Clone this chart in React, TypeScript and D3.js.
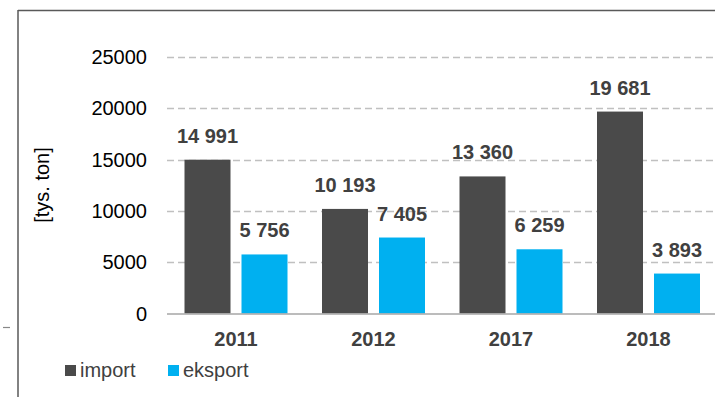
import React from "react";
import * as d3 from "d3";

const categories = ["2011", "2012", "2017", "2018"];
const seriesNames = ["import", "eksport"];
const importValues = [14991, 10193, 13360, 19681];
const eksportValues = [5756, 7405, 6259, 3893];
const yTicks = [0, 5000, 10000, 15000, 20000, 25000];
const yLabel = "[tys. ton]";

const colors: Record<string, string> = { import: "#4a4a4a", eksport: "#00b0f0" };
const FONT = "'Liberation Sans', Arial, sans-serif";

export default function App() {
  const W = 715;
  const H = 397;
  const x0 = d3.scaleBand<string>().domain(categories).range([167.25, 717.25]).padding(0);
  const x1 = d3
    .scaleBand<string>()
    .domain(seriesNames)
    .range([17.25, 120.25])
    .paddingInner(11 / 57)
    .paddingOuter(0);
  const y = d3.scaleLinear().domain([0, 25000]).range([313.5, 57]);
  const fmt = d3.formatLocale({ decimal: ",", thousands: " ", grouping: [3], currency: ["", ""] }).format(",d");
  const data: Record<string, number[]> = { import: importValues, eksport: eksportValues };

  return (
    <svg width={W} height={H} style={{ position: "absolute", left: 0, top: 0, display: "block" }} fontFamily={FONT}>
      <rect x={0} y={0} width={W} height={H} fill="#ffffff" />
      {/* frame */}
      <line x1={18} y1={10.5} x2={W} y2={10.5} stroke="#595959" strokeWidth={1.5} />
      <line x1={18} y1={10} x2={18} y2={H} stroke="#595959" strokeWidth={1.5} />
      <line x1={3} y1={327.5} x2={10} y2={327.5} stroke="#888888" strokeWidth={1.2} />
      {/* gridlines */}
      {yTicks.filter((t) => t > 0).map((t) => (
        <line key={t} x1={167} x2={W} y1={Math.round(y(t)) + 0.5} y2={Math.round(y(t)) + 0.5}
          stroke="#c0c0c0" strokeWidth={1.3} strokeDasharray="7 4" />
      ))}
      {/* y tick labels */}
      {yTicks.map((t) => (
        <text key={t} x={147} y={y(t)} dy="0.35em" textAnchor="end" fontSize={20} fill="#000">
          {t}
        </text>
      ))}
      {/* y label */}
      <text transform={`translate(49,185) rotate(-90)`} textAnchor="middle" fontSize={20} fill="#000">
        {yLabel}
      </text>
      {/* bars */}
      {categories.map((c, i) => (
        <g key={c} transform={`translate(${x0(c)},0)`}>
          {seriesNames.map((s) => {
            const v = data[s][i];
            const bx = x1(s)!;
            const bw = x1.bandwidth();
            return (
              <g key={s}>
                <rect x={bx} y={y(v)} width={bw} height={y(0) - y(v)} fill={colors[s]} />
                <text x={bx + bw / 2} y={y(v) - 17} textAnchor="middle" fontSize={20} fontWeight="bold" fill="#404040">
                  {fmt(v)}
                </text>
              </g>
            );
          })}
          <text x={x0.bandwidth() / 2} y={345.5} textAnchor="middle" fontSize={20} fontWeight="bold" fill="#404040">
            {c}
          </text>
        </g>
      ))}
      {/* x axis line */}
      <line x1={167} x2={W} y1={y(0) + 0.5} y2={y(0) + 0.5} stroke="#a6a6a6" strokeWidth={1.5} />
      {/* legend */}
      {seriesNames.map((s, i) => {
        const lx = [65, 168][i];
        return (
          <g key={s}>
            <rect x={lx} y={365} width={11} height={11} fill={colors[s]} />
            <text x={lx + 15} y={377} fontSize={20} fill="#404040">
              {s}
            </text>
          </g>
        );
      })}
    </svg>
  );
}
